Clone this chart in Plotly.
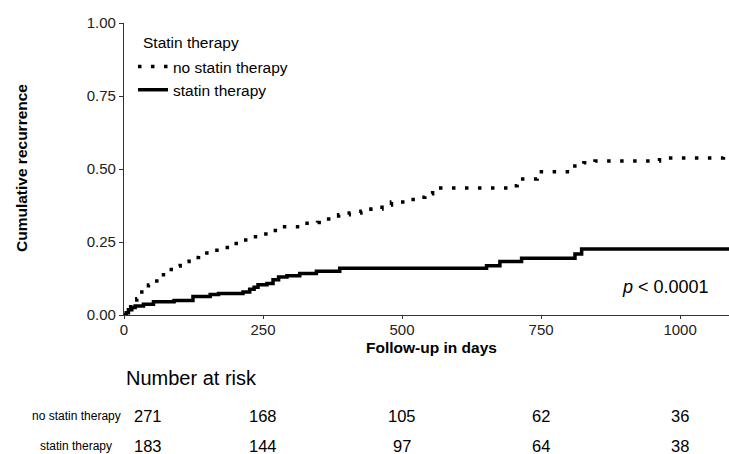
import plotly.graph_objects as go

# ---- data ----
nostatin_days = [0, 3, 7, 12, 17, 23, 32, 44, 59, 71, 85, 101, 117, 134, 155, 173, 191, 209,
                 228, 248, 266, 282, 326, 348, 368, 386, 405, 426, 444, 464, 481, 520, 541,
                 555, 696, 707, 743, 807, 827, 847, 963, 1078, 1088]
nostatin_cum = [0, 0.008, 0.018, 0.028, 0.040, 0.056, 0.085, 0.103, 0.125, 0.145, 0.168, 0.183,
                0.197, 0.212, 0.222, 0.231, 0.245, 0.257, 0.268, 0.277, 0.289, 0.302, 0.314,
                0.317, 0.329, 0.343, 0.349, 0.355, 0.363, 0.377, 0.387, 0.403, 0.415, 0.435,
                0.443, 0.466, 0.491, 0.510, 0.521, 0.527, 0.538, 0.552, 0.552]

statin_days = [0, 4, 8, 14, 20, 35, 53, 90, 124, 155, 170, 214, 226, 234, 241, 257, 268, 278,
               293, 316, 346, 388, 652, 676, 715, 811, 823, 1088]
statin_cum = [0, 0.008, 0.018, 0.026, 0.031, 0.037, 0.045, 0.050, 0.063, 0.070, 0.074, 0.079,
              0.088, 0.095, 0.104, 0.108, 0.121, 0.130, 0.134, 0.142, 0.150, 0.160, 0.169,
              0.183, 0.194, 0.209, 0.226, 0.226]

x_ticks = [0, 250, 500, 750, 1000]
y_ticks = [0, 0.25, 0.5, 0.75, 1.0]
y_tick_labels = ["0.00", "0.25", "0.50", "0.75", "1.00"]

risk_times = [0, 250, 500, 750, 1000]
risk_nostatin = [271, 168, 105, 62, 36]
risk_statin = [183, 144, 97, 64, 38]
group_names = ["no statin therapy", "statin therapy"]
legend_title = "Statin therapy"

FONT = "Arial, Liberation Sans, sans-serif"

fig = go.Figure()
fig.add_trace(go.Scatter(x=nostatin_days, y=nostatin_cum, mode="lines", line_shape="hv",
                         name=group_names[0],
                         line=dict(color="black", width=3.5, dash="3.5px,9.5px")))
fig.add_trace(go.Scatter(x=statin_days, y=statin_cum, mode="lines", line_shape="hv",
                         name=group_names[1],
                         line=dict(color="black", width=3.5)))

# plot geometry
L, T, R, B = 124, 23, 0, 139
W, H = 729, 454
ph = H - T - B
pw = W - L - R

def py(pix):
    return (H - B - pix) / ph

def px(pix):
    return (pix - L) / pw

annotations = []
# legend title
annotations.append(dict(text=legend_title, xref="paper", yref="paper",
                        x=px(141), y=py(42), showarrow=False, xanchor="left",
                        yanchor="middle", font=dict(family=FONT, size=15.5, color="black")))
# y-axis title
annotations.append(dict(text="<b>Cumulative recurrence</b>", xref="paper", yref="paper",
                        x=px(21), y=py(168), textangle=-90, showarrow=False,
                        xanchor="center", yanchor="middle",
                        font=dict(family=FONT, size=15.5, color="black")))
# x-axis title
annotations.append(dict(text="<b>Follow-up in days</b>", xref="paper", yref="paper",
                        x=px(431), y=py(348), showarrow=False, xanchor="center",
                        yanchor="middle",
                        font=dict(family=FONT, size=15.5, color="black")))
# p value
annotations.append(dict(text="<i>p</i> < 0.0001", xref="paper", yref="paper",
                        x=px(711), y=py(287), showarrow=False,
                        xanchor="right", yanchor="middle",
                        font=dict(family=FONT, size=18, color="black")))
# risk table title
annotations.append(dict(text="Number at risk", xref="paper", yref="paper",
                        x=0, y=py(378), showarrow=False, xanchor="left", yanchor="middle",
                        font=dict(family=FONT, size=20, color="black")))
row_y = [py(416), py(446)]
for name, yy in zip(group_names, row_y):
    annotations.append(dict(text=name, xref="paper", yref="paper", x=px(76),
                            y=yy, showarrow=False, xanchor="center", yanchor="middle",
                            font=dict(family=FONT, size=12, color="black")))
for counts, yy in zip([risk_nostatin, risk_statin], row_y):
    for i, (t, n) in enumerate(zip(risk_times, counts)):
        annotations.append(dict(text=str(n), xref="x", yref="paper", x=t, y=yy,
                                showarrow=False,
                                xanchor="left" if i == 0 else "center",
                                xshift=8 if i == 0 else 0,
                                yanchor="middle",
                                font=dict(family=FONT, size=16.5, color="black")))

fig.update_layout(
    width=W, height=H,
    margin=dict(l=L, r=R, t=T, b=B, pad=0),
    paper_bgcolor="white", plot_bgcolor="white",
    font=dict(family=FONT, size=15, color="black"),
    showlegend=True,
    legend=dict(x=px(133), y=py(50), xanchor="left", yanchor="top",
                bgcolor="rgba(0,0,0,0)", font=dict(size=15.5, color="black"),
                itemwidth=30),
    xaxis=dict(range=[0, 1088], tickvals=x_ticks, ticks="outside", ticklen=3, tickwidth=1,
               tickcolor="#333", showline=True, linecolor="#333", linewidth=1.2,
               showgrid=False, zeroline=False, ticklabelstandoff=-2,
               tickfont=dict(family=FONT, size=15, color="#222")),
    yaxis=dict(range=[0, 1], tickvals=y_ticks, ticktext=y_tick_labels, ticks="outside",
               ticklen=4, tickwidth=1, tickcolor="#333", showline=True, linecolor="#333",
               linewidth=1.2, showgrid=False, zeroline=False,
               tickfont=dict(family=FONT, size=15, color="#222")),
    annotations=annotations,
)

fig.write_html("out.html", post_script="document.body.style.margin='0';",
               config={"displayModeBar": False})
